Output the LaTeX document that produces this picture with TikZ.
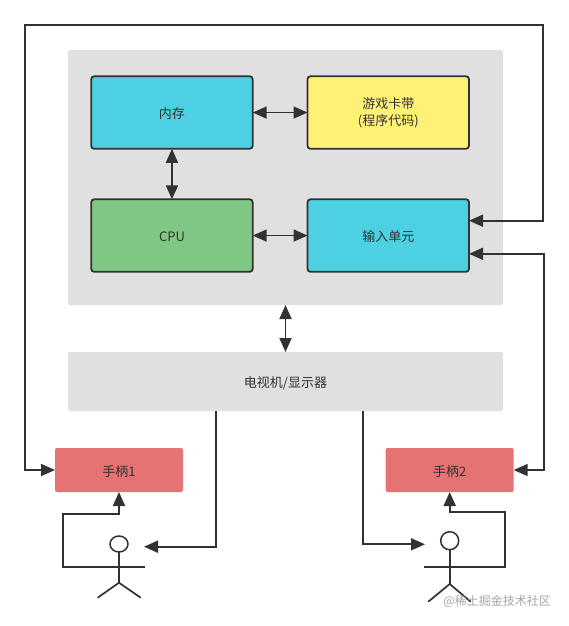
\documentclass[tikz,border=0pt]{standalone}
\usepackage{fontspec}
\setmainfont{Noto Sans CJK SC}
\usepackage{xcolor}
\usepackage{tikz}
\usetikzlibrary{
  positioning,
  arrows.meta,
  shapes.geometric,
  calc
}
\definecolor{panelbg}{RGB}{224,224,224}
\definecolor{cyanbg}{RGB}{77,208,225}
\definecolor{yellowbg}{RGB}{255,241,118}
\definecolor{greenbg}{RGB}{129,199,132}
\definecolor{padbg}{RGB}{229,115,115}
\definecolor{linecolor}{RGB}{50,50,50}
\definecolor{marktext}{RGB}{165,165,165}
\tikzset{
  panelbox/.style={
    fill=panelbg, rounded corners=2pt, outer sep=0pt,
    font=\fontsize{13}{17}\selectfont, text=linecolor, align=center,
    text height=12.5pt, text depth=0.5pt
  },
  unitbox/.style={
    draw=linecolor, line width=1.8pt, rounded corners=3pt, outer sep=0pt,
    minimum width=161.5pt, minimum height=72.5pt,
    font=\fontsize{13}{17}\selectfont, text=linecolor, align=center,
    text height=12.5pt, text depth=0.5pt
  },
  padbox/.style={
    fill=padbg, rounded corners=2pt, outer sep=0pt,
    minimum width=128pt, minimum height=44pt,
    font=\fontsize{13}{17}\selectfont, text=linecolor, align=center,
    text height=12.5pt, text depth=0.5pt
  },
  bigarrow/.style={
    -{Triangle[length=14pt,width=12pt]}, line width=1.8pt, draw=linecolor
  },
  bothway/.style={
    {Triangle[length=14pt,width=12pt]}-{Triangle[length=14pt,width=12pt]},
    line width=1.8pt, draw=linecolor
  },
  figline/.style={
    line width=1.7pt, draw=linecolor
  }
}

\begin{document}
\begin{tikzpicture}[x=1pt, y=1pt]

    \useasboundingbox (0,0) rectangle (568,-626);

    \node[panelbox, minimum width=435pt, minimum height=255pt] (console) at (285.5,-177.5) {};
    \node[panelbox, minimum width=435pt, minimum height=59pt, below=47pt of console] (tv) {电视机/显示器};

    \node[unitbox, fill=cyanbg, below right=26.3pt and 23.2pt of console.north west] (mem) {内存};
    \node[unitbox, fill=yellowbg, text height=27pt, right=54.8pt of mem] (cart) {游戏卡带\\(程序代码)};
    \node[unitbox, fill=greenbg, below=50.5pt of mem] (cpu) {CPU};
    \node[unitbox, fill=cyanbg, right=54.8pt of cpu] (input) {输入单元};

    \node[padbox] (pad1) at (119,-470) {手柄1};
    \node[padbox] (pad2) at (449.7,-470) {手柄2};

    \node[draw=linecolor, line width=1.5pt, ellipse, minimum width=18pt, minimum height=16pt, inner sep=0pt, outer sep=0pt] (head1) at (119,-544) {};
    \coordinate (hip1) at (119,-582.7);
    \coordinate (armL1) at (93,-566.7);
    \coordinate (armR1) at (145,-566.7);
    \coordinate (see1) at (144,-546.7);
    \draw[figline] (head1.south) -- (hip1);
    \draw[figline] (armL1) -- (armR1);
    \draw[figline] (97.7,-597.7) -- (hip1) -- (140.7,-597.7);

    \node[draw=linecolor, line width=1.5pt, circle, minimum size=18pt, inner sep=0pt, outer sep=0pt] (head2) at (449.7,-540.7) {};
    \coordinate (hip2) at (449.7,-584);
    \coordinate (armL2) at (424,-566.7);
    \coordinate (armR2) at (475.7,-566.7);
    \coordinate (see2) at (425,-544.3);
    \draw[figline] (head2.south) -- (hip2);
    \draw[figline] (armL2) -- (armR2);
    \draw[figline] (428.3,-601.7) -- (hip2) -- (470.7,-601.7);

    \draw[bothway] (mem) -- (cart);
    \draw[bothway] (mem) -- (cpu);
    \draw[bothway] (cpu) -- (input);
    \draw[bothway] (console) -- (tv);

    \draw[bothway] (pad1.west) -- (25,-470) -- (25,-25) -- (543,-25) -- (543,-220.7) -- (input.east |- 543,-220.7);
    \draw[bothway] (input.east |- 544,-253.8) -- (544,-253.8) -- (544,-470) -- (pad2.east);

    \draw[bigarrow] (216,-411) -- (216,-546.7) -- (see1);
    \draw[bigarrow] (363.3,-411) -- (363.3,-544.3) -- (see2);

    \draw[bigarrow] (armL1) -- (63.3,-566.7) -- (63.3,-514) -- (119,-514) -- (pad1.south);
    \draw[bigarrow] (armR2) -- (505.3,-566.7) -- (505.3,-512) -- (449.7,-512) -- (pad2.south);

    \node[text=marktext, font=\fontsize{12}{15}\selectfont, anchor=east, inner sep=0pt] (mark) at (551,-601.7) {@稀土掘金技术社区};

\end{tikzpicture}
\end{document}
